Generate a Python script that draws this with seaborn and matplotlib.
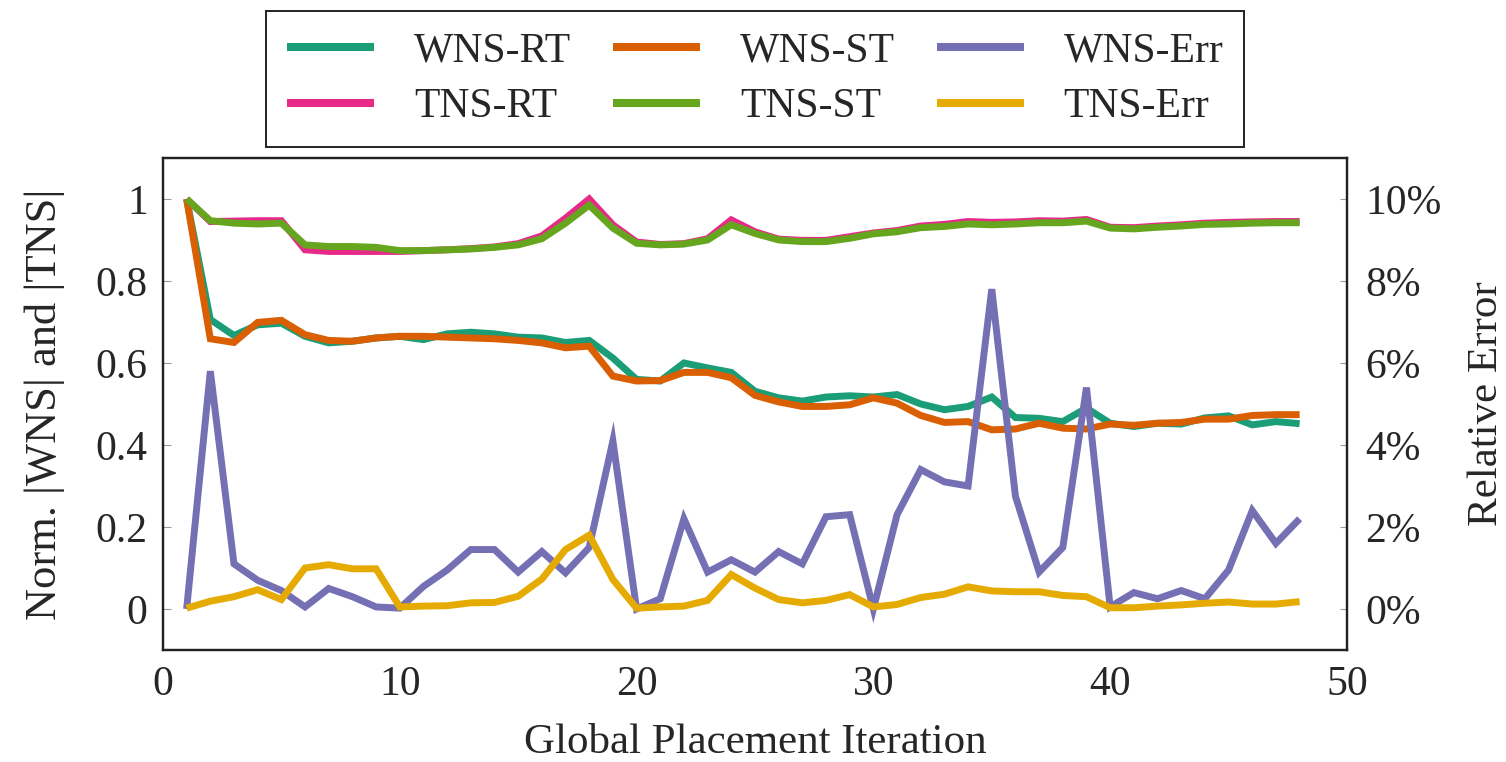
import matplotlib
matplotlib.use("Agg")
import matplotlib.pyplot as plt
from matplotlib.ticker import FuncFormatter
import numpy as np
import pandas as pd
import seaborn as sns

# Global placement iterations
iters = list(range(1, 49))

# Normalized |WNS| / |TNS| (left axis)
wns_rt = [1.0, 0.706, 0.667, 0.693, 0.697, 0.665, 0.649, 0.653, 0.661, 0.665,
          0.657, 0.671, 0.675, 0.671, 0.663, 0.661, 0.650, 0.655, 0.612, 0.560,
          0.556, 0.600, 0.588, 0.577, 0.531, 0.515, 0.507, 0.517, 0.520, 0.517,
          0.523, 0.500, 0.486, 0.494, 0.517, 0.467, 0.465, 0.457, 0.490, 0.453,
          0.445, 0.453, 0.451, 0.466, 0.471, 0.449, 0.457, 0.452]
wns_st = [1.0, 0.659, 0.650, 0.699, 0.704, 0.669, 0.655, 0.653, 0.661, 0.665,
          0.665, 0.663, 0.661, 0.659, 0.655, 0.649, 0.637, 0.641, 0.568, 0.556,
          0.557, 0.577, 0.577, 0.564, 0.521, 0.505, 0.494, 0.494, 0.498, 0.515,
          0.502, 0.472, 0.455, 0.457, 0.437, 0.439, 0.453, 0.441, 0.439, 0.451,
          0.448, 0.453, 0.455, 0.463, 0.463, 0.472, 0.474, 0.474]
tns_rt = [1.0, 0.945, 0.946, 0.947, 0.947, 0.876, 0.872, 0.872, 0.872, 0.872,
          0.874, 0.876, 0.879, 0.883, 0.891, 0.910, 0.953, 1.0, 0.937, 0.895,
          0.889, 0.891, 0.903, 0.949, 0.920, 0.902, 0.899, 0.899, 0.908, 0.917,
          0.923, 0.934, 0.938, 0.945, 0.943, 0.944, 0.947, 0.946, 0.950, 0.931,
          0.930, 0.934, 0.937, 0.941, 0.943, 0.944, 0.945, 0.945]
tns_st = [1.0, 0.947, 0.941, 0.939, 0.941, 0.888, 0.884, 0.884, 0.882, 0.874,
          0.874, 0.876, 0.878, 0.882, 0.888, 0.903, 0.941, 0.985, 0.929, 0.892,
          0.888, 0.890, 0.900, 0.937, 0.916, 0.900, 0.896, 0.896, 0.904, 0.915,
          0.920, 0.930, 0.933, 0.939, 0.937, 0.939, 0.942, 0.942, 0.946, 0.929,
          0.927, 0.931, 0.934, 0.938, 0.939, 0.941, 0.942, 0.942]

# Relative error in percent (right axis)
wns_err = [0.0, 5.8, 1.1, 0.7, 0.45, 0.05, 0.5, 0.3, 0.05, 0.02,
           0.55, 0.95, 1.45, 1.45, 0.9, 1.4, 0.88, 1.5, 4.1, 0.0,
           0.25, 2.2, 0.9, 1.2, 0.9, 1.4, 1.1, 2.25, 2.3, 0.0,
           2.3, 3.4, 3.1, 3.0, 7.8, 2.75, 0.9, 1.5, 5.4, 0.05,
           0.4, 0.25, 0.45, 0.25, 0.95, 2.4, 1.6, 2.2]
tns_err = [0.02, 0.19, 0.3, 0.47, 0.23, 1.0, 1.08, 0.98, 0.98, 0.05,
           0.07, 0.08, 0.15, 0.16, 0.31, 0.73, 1.45, 1.8, 0.72, 0.02,
           0.05, 0.07, 0.21, 0.84, 0.51, 0.23, 0.15, 0.21, 0.35, 0.05,
           0.11, 0.28, 0.36, 0.54, 0.44, 0.42, 0.42, 0.33, 0.30, 0.03,
           0.03, 0.07, 0.10, 0.14, 0.17, 0.12, 0.12, 0.18]

colors = {"WNS-RT": "#1b9e77", "WNS-ST": "#d95f02", "WNS-Err": "#7570b3",
          "TNS-RT": "#e7298a", "TNS-ST": "#66a61e", "TNS-Err": "#e6ab02"}

sns.set_style("white")
plt.rcParams['font.family'] = ['Liberation Serif', 'DejaVu Serif']

fig = plt.figure(figsize=(15.06, 7.62), dpi=100)
ax = fig.add_axes([0.1082, 0.147, 0.7862, 0.6457])
ax2 = ax.twinx()

lw = 5
left_series = [("WNS-RT", wns_rt), ("WNS-ST", wns_st), ("TNS-RT", tns_rt), ("TNS-ST", tns_st)]
right_series = [("WNS-Err", wns_err), ("TNS-Err", tns_err)]

for name, vals in left_series:
    sns.lineplot(x=iters, y=vals, ax=ax, color=colors[name], lw=lw, label=name,
                 legend=False, solid_joinstyle="miter", solid_capstyle="butt")
for name, vals in right_series:
    sns.lineplot(x=iters, y=vals, ax=ax2, color=colors[name], lw=lw, label=name,
                 legend=False, solid_joinstyle="miter", solid_capstyle="butt")

ax.set_xlim(0, 50)
ax.set_ylim(-0.1, 1.1)
ax2.set_ylim(-1, 11)
ax.set_xticks([0, 10, 20, 30, 40, 50])
ax.set_yticks([0, 0.2, 0.4, 0.6, 0.8, 1.0])
ax.set_yticklabels(["0", "0.2", "0.4", "0.6", "0.8", "1"])
ax2.set_yticks([0, 2, 4, 6, 8, 10])
ax2.yaxis.set_major_formatter(FuncFormatter(lambda v, p: f"{int(v)}%"))

fs = 30
ax.tick_params(axis="both", direction="in", length=5.4, width=0.8, color="#999999",
               labelsize=fs, pad=11, right=False, top=False)
ax2.tick_params(axis="y", direction="in", length=5.4, width=0.8, color="#999999",
                labelsize=fs, pad=13)

ax.set_xlabel("Global Placement Iteration", fontsize=31, labelpad=14)
ax.set_ylabel("Norm. |WNS| and |TNS|", fontsize=32, labelpad=22)
ax2.set_ylabel("Relative Error", fontsize=31, labelpad=19)

for a in (ax, ax2):
    for s in a.spines.values():
        s.set_color("#222222")
        s.set_linewidth(1.6)

# legend row-wise like pgfplots: reorder for matplotlib column filling
h1, l1 = ax.get_legend_handles_labels()
h2, l2 = ax2.get_legend_handles_labels()
hmap = dict(zip(l1 + l2, h1 + h2))
order = ["WNS-RT", "TNS-RT", "WNS-ST", "TNS-ST", "WNS-Err", "TNS-Err"]
leg = fig.legend([hmap[k] for k in order], order, loc="upper center",
                 bbox_to_anchor=(0.5014, 0.9856), borderaxespad=0, ncol=3, fontsize=30,
                 frameon=True, fancybox=False, framealpha=1, edgecolor="#222222",
                 handlelength=2.1, handletextpad=0.95, columnspacing=1.0,
                 labelspacing=0.42, borderpad=0.5)
leg.get_frame().set_linewidth(1.4)
for line in leg.get_lines():
    line.set_linewidth(5.8)

plt.savefig("out.png", dpi=100)
plt.close()
